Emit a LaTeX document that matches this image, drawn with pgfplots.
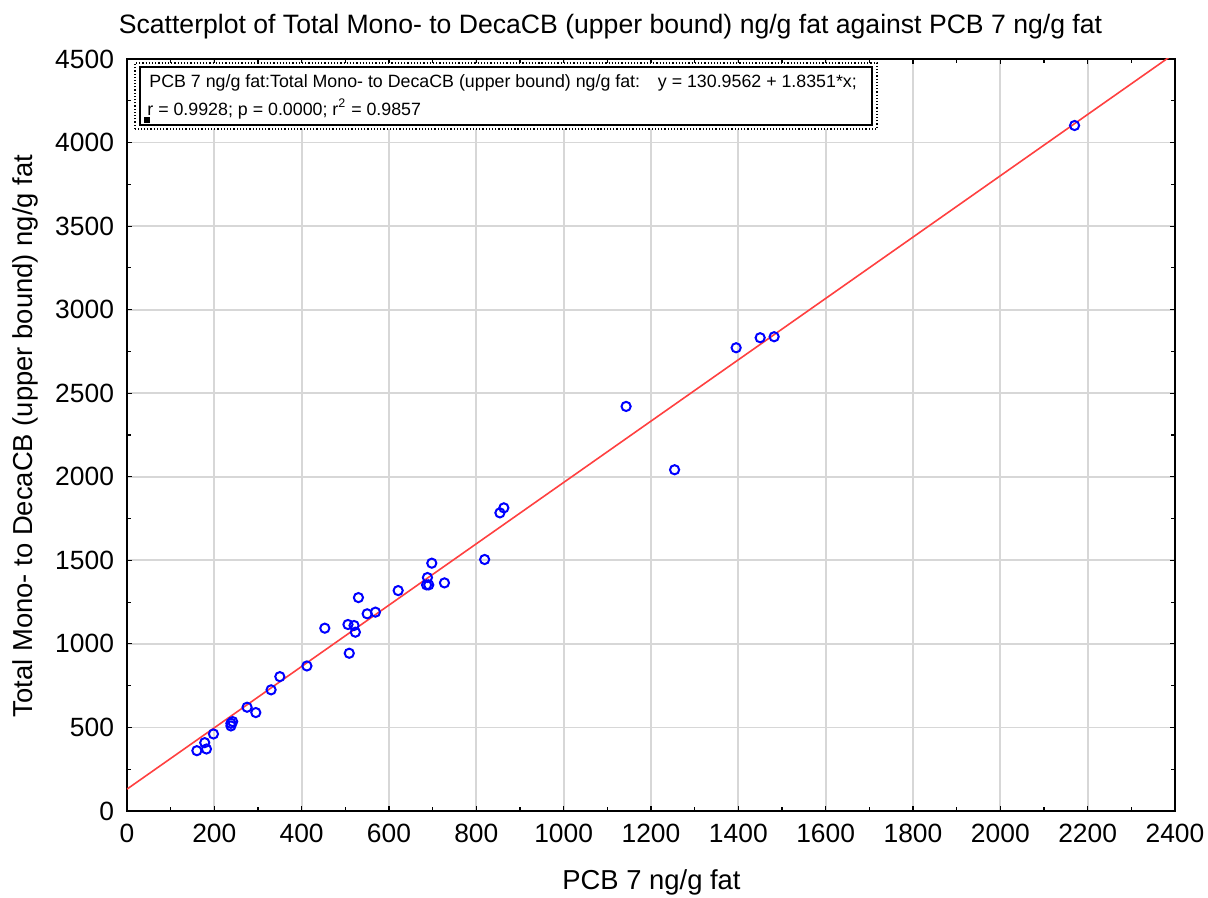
\documentclass[border=0pt]{standalone}
\usepackage{fontspec}
\setmainfont{Liberation Sans}
\usepackage{pgfplots}
\pgfplotsset{compat=1.18}
\definecolor{gridgray}{RGB}{215,215,215}
\definecolor{fitred}{RGB}{255,64,64}

\begin{document}
\begin{tikzpicture}
\begin{axis}[
    scale only axis,
    width=524bp, height=376bp,
    xmin=0, xmax=2400, ymin=0, ymax=4500,
    xtick distance=200, ytick distance=500,
    minor tick num=1,
    tick align=inside,
    major tick length=2.5bp, minor tick length=1.8bp,
    every tick/.style={black, line width=0.6bp},
    grid=major,
    major grid style={gridgray, line width=0.9bp},
    axis line style={black, line width=1bp},
    /pgf/number format/assume math mode=true,
    /pgf/number format/1000 sep={},
    tick label style={font=\fontsize{13.2bp}{15bp}\selectfont, black},
    xticklabel style={yshift=-3bp},
    yticklabel style={xshift=-3bp},
]
% regression line y = 130.9562 + 1.8351*x
\addplot[fitred, line width=0.8bp] coordinates {(0,130.9562) (2400,4535.2)};
\addplot[only marks, mark=o, mark size=2.3bp, blue, mark options={line width=1bp}] table {
x y
160 361
182 371
178 409
198 461
238 509
242 535
238 525
275 621
295 589
330 725
350 804
412 868
453 1094
509 944
506 1116
520 1110
523 1070
530 1277
550 1180
569 1190
621 1319
688 1397
686 1353
691 1353
698 1483
727 1365
819 1505
854 1784
863 1814
1143 2421
1254 2042
1395 2772
1450 2832
1482 2838
2170 4102
};
\end{axis}

% statistics box
\draw[black, line width=0.6bp, densely dotted, fill=white] (4bp,341bp) rectangle (375bp,374bp);
\draw[black, line width=0.8bp] (6.5bp,343bp) rectangle (372.5bp,372bp);
\fill[black] (8.5bp,344bp) rectangle (11.5bp,347bp);
\node[anchor=west, inner sep=0pt, font=\fontsize{8.9bp}{11bp}\selectfont] at (11bp,364bp)
  {PCB 7 ng/g fat:Total Mono- to DecaCB (upper bound) ng/g fat:\quad y = 130.9562 + 1.8351*x;};
\node[anchor=west, inner sep=0pt, font=\fontsize{8.9bp}{11bp}\selectfont] at (10bp,351bp)
  {r = 0.9928; p = 0.0000; r\textsuperscript{2} = 0.9857};

% title and axis labels
\node[font=\fontsize{13.3bp}{15bp}\selectfont] at (241.75bp,392bp)
  {Scatterplot of Total Mono- to DecaCB (upper bound) ng/g fat against PCB 7 ng/g fat};
\node[font=\fontsize{13.7bp}{15bp}\selectfont] at (262.25bp,-35.5bp) {PCB 7 ng/g fat};
\node[rotate=90, font=\fontsize{13.7bp}{15bp}\selectfont] at (-51bp,187.5bp)
  {Total Mono- to DecaCB (upper bound) ng/g fat};

\pgfresetboundingbox
\path[use as bounding box] (-63.5bp,-43.5bp) rectangle (540.5bp,405.5bp);
\end{tikzpicture}
\end{document}
